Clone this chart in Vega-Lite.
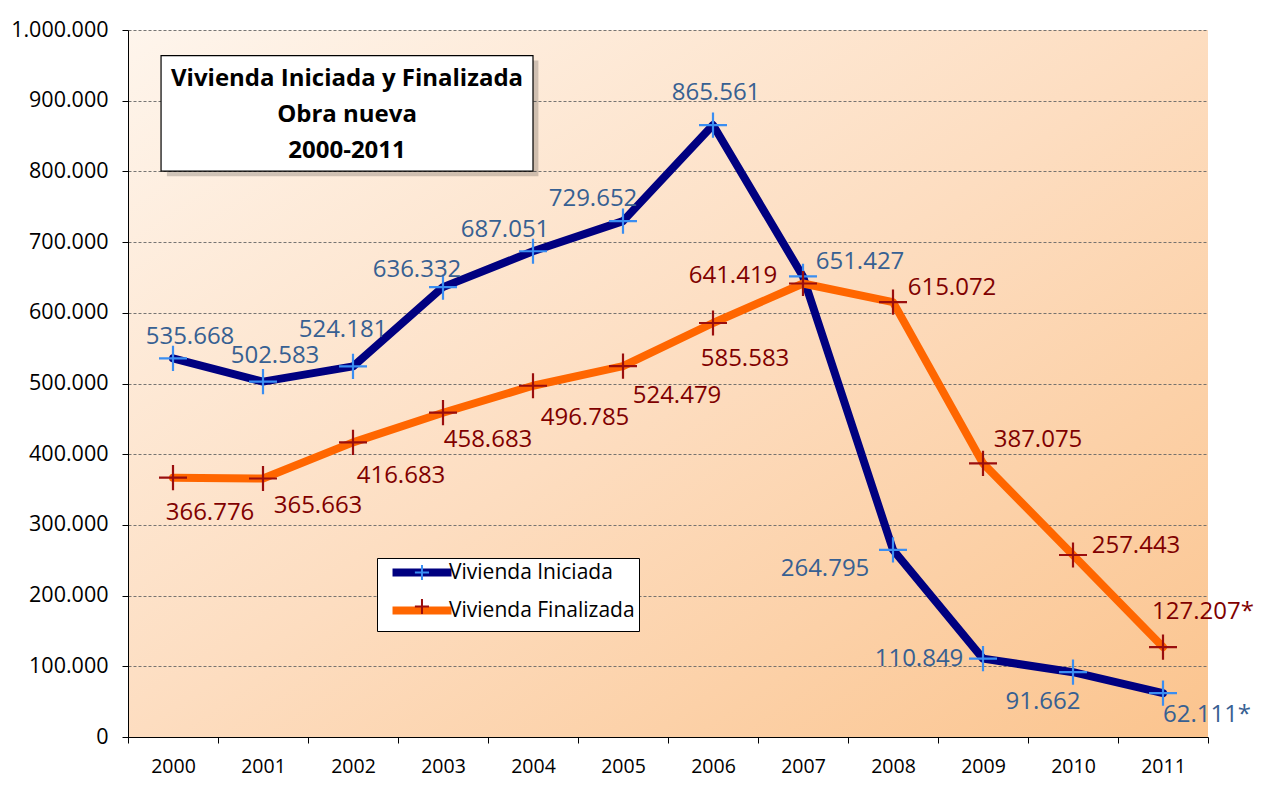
{
  "$schema": "https://vega.github.io/schema/vega-lite/v6.json",
  "width": 1080,
  "height": 707,
  "autosize": {"type": "none"},
  "padding": {"left": 128, "top": 30, "right": 55, "bottom": 59},
  "background": "white",
  "config": {
    "locale": {"number": {"decimal": ",", "thousands": ".", "grouping": [3], "currency": ["", " €"]}},
    "font": "Open Sans",
    "view": {
      "fill": {"gradient": "linear", "x1": 0, "y1": 0, "x2": 1, "y2": 1,
        "stops": [{"offset": 0, "color": "#FEF5EC"}, {"offset": 0.5, "color": "#FDDDC0"}, {"offset": 1, "color": "#FBC48E"}]},
      "stroke": null
    },
    "text": {"font": "Open Sans", "fontSize": 24, "align": "center", "baseline": "middle"}
  },
  "data": {"values": [
    {"year": "2000", "serie": "Vivienda Iniciada", "value": 535668, "label": "535.668"},
    {"year": "2001", "serie": "Vivienda Iniciada", "value": 502583, "label": "502.583"},
    {"year": "2002", "serie": "Vivienda Iniciada", "value": 524181, "label": "524.181"},
    {"year": "2003", "serie": "Vivienda Iniciada", "value": 636332, "label": "636.332"},
    {"year": "2004", "serie": "Vivienda Iniciada", "value": 687051, "label": "687.051"},
    {"year": "2005", "serie": "Vivienda Iniciada", "value": 729652, "label": "729.652"},
    {"year": "2006", "serie": "Vivienda Iniciada", "value": 865561, "label": "865.561"},
    {"year": "2007", "serie": "Vivienda Iniciada", "value": 651427, "label": "651.427"},
    {"year": "2008", "serie": "Vivienda Iniciada", "value": 264795, "label": "264.795"},
    {"year": "2009", "serie": "Vivienda Iniciada", "value": 110849, "label": "110.849"},
    {"year": "2010", "serie": "Vivienda Iniciada", "value": 91662, "label": "91.662"},
    {"year": "2011", "serie": "Vivienda Iniciada", "value": 62111, "label": "62.111*"},
    {"year": "2000", "serie": "Vivienda Finalizada", "value": 366776, "label": "366.776"},
    {"year": "2001", "serie": "Vivienda Finalizada", "value": 365663, "label": "365.663"},
    {"year": "2002", "serie": "Vivienda Finalizada", "value": 416683, "label": "416.683"},
    {"year": "2003", "serie": "Vivienda Finalizada", "value": 458683, "label": "458.683"},
    {"year": "2004", "serie": "Vivienda Finalizada", "value": 496785, "label": "496.785"},
    {"year": "2005", "serie": "Vivienda Finalizada", "value": 524479, "label": "524.479"},
    {"year": "2006", "serie": "Vivienda Finalizada", "value": 585583, "label": "585.583"},
    {"year": "2007", "serie": "Vivienda Finalizada", "value": 641419, "label": "641.419"},
    {"year": "2008", "serie": "Vivienda Finalizada", "value": 615072, "label": "615.072"},
    {"year": "2009", "serie": "Vivienda Finalizada", "value": 387075, "label": "387.075"},
    {"year": "2010", "serie": "Vivienda Finalizada", "value": 257443, "label": "257.443"},
    {"year": "2011", "serie": "Vivienda Finalizada", "value": 127207, "label": "127.207*"}
  ]},
  "resolve": {"scale": {"x": "independent", "y": "independent"}},
  "layer": [
    {
      "encoding": {
        "x": {"field": "year", "type": "ordinal", "scale": {"paddingInner": 0, "paddingOuter": 0},
          "axis": {"title": null, "labelAngle": 0, "tickBand": "extent", "domainColor": "black", "tickColor": "black", "tickSize": 6,
            "labelFont": "Open Sans", "labelFontSize": 19.5, "labelColor": "black", "labelPadding": 14, "grid": false}},
        "y": {"field": "value", "type": "quantitative", "scale": {"domain": [0, 1000000], "nice": false},
          "axis": {"title": null, "values": [0, 100000, 200000, 300000, 400000, 500000, 600000, 700000, 800000, 900000, 1000000],
            "format": ",d", "domainColor": "black", "tickColor": "black", "tickSize": 6,
            "labelFont": "Open Sans", "labelFontSize": 21.5, "labelColor": "black", "labelPadding": 14,
            "grid": true, "gridColor": "#666666", "gridDash": [3, 2], "gridWidth": 0.9}}
      },
      "layer": [
        {"transform": [{"filter": "datum.serie == 'Vivienda Iniciada'"}],
          "mark": {"type": "line", "strokeWidth": 8, "strokeJoin": "round", "strokeCap": "round"},
          "encoding": {"color": {"field": "serie", "type": "nominal",
            "scale": {"domain": ["Vivienda Iniciada", "Vivienda Finalizada"], "range": ["#000080", "#FF6600"]},
            "legend": {"title": null, "orient": "none", "legendX": 249, "legendY": 528, "fillColor": "white", "strokeColor": "black", "zindex": 1,
              "padding": 4, "symbolType": "M0.17,0H10", "symbolSize": 144, "symbolStrokeWidth": 8, "labelOffset": 47, "labelLimit": 400,
              "labelFont": "Open Sans", "labelFontSize": 21, "labelColor": "black", "rowPadding": 5}}}},
        {"transform": [{"filter": "datum.serie == 'Vivienda Finalizada'"}],
          "mark": {"type": "line", "strokeWidth": 8, "strokeJoin": "round", "strokeCap": "round"},
          "encoding": {"color": {"field": "serie", "type": "nominal"}}},
        {"mark": {"type": "point", "shape": "M-1,0H1M0,-0.9V0.9", "size": 784, "strokeWidth": 2.2, "filled": false, "opacity": 1},
          "encoding": {"stroke": {"field": "serie", "type": "nominal",
            "scale": {"domain": ["Vivienda Iniciada", "Vivienda Finalizada", "-"], "range": ["#3A8EF2", "#9A0E0E", "transparent"]},
            "legend": {"title": null, "orient": "none", "legendX": 249, "legendY": 528, "zindex": 2, "values": ["Vivienda Iniciada", "Vivienda Finalizada"],
              "padding": 4, "symbolType": "M3.9,0H6.25M5.08,-1.25V1.25", "symbolSize": 144, "symbolStrokeWidth": 2, "symbolOpacity": 1, "labelOffset": 47, "labelLimit": 400,
              "labelFont": "Open Sans", "labelFontSize": 21, "labelExpr": "' '", "rowPadding": 11}}}},
        {"transform": [{"filter": "datum.serie == 'Vivienda Iniciada' && datum.year == '2000'"}], "mark": {"type": "text", "color": "#376092", "dx": 17, "dy": -21}, "encoding": {"text": {"field": "label"}}},
        {"transform": [{"filter": "datum.serie == 'Vivienda Iniciada' && datum.year == '2001'"}], "mark": {"type": "text", "color": "#376092", "dx": 12, "dy": -26}, "encoding": {"text": {"field": "label"}}},
        {"transform": [{"filter": "datum.serie == 'Vivienda Iniciada' && datum.year == '2002'"}], "mark": {"type": "text", "color": "#376092", "dx": -10, "dy": -36}, "encoding": {"text": {"field": "label"}}},
        {"transform": [{"filter": "datum.serie == 'Vivienda Iniciada' && datum.year == '2003'"}], "mark": {"type": "text", "color": "#376092", "dx": -26, "dy": -17}, "encoding": {"text": {"field": "label"}}},
        {"transform": [{"filter": "datum.serie == 'Vivienda Iniciada' && datum.year == '2004'"}], "mark": {"type": "text", "color": "#376092", "dx": -28, "dy": -21}, "encoding": {"text": {"field": "label"}}},
        {"transform": [{"filter": "datum.serie == 'Vivienda Iniciada' && datum.year == '2005'"}], "mark": {"type": "text", "color": "#376092", "dx": -30, "dy": -22}, "encoding": {"text": {"field": "label"}}},
        {"transform": [{"filter": "datum.serie == 'Vivienda Iniciada' && datum.year == '2006'"}], "mark": {"type": "text", "color": "#376092", "dx": 3, "dy": -32}, "encoding": {"text": {"field": "label"}}},
        {"transform": [{"filter": "datum.serie == 'Vivienda Iniciada' && datum.year == '2007'"}], "mark": {"type": "text", "color": "#376092", "dx": 57, "dy": -14}, "encoding": {"text": {"field": "label"}}},
        {"transform": [{"filter": "datum.serie == 'Vivienda Iniciada' && datum.year == '2008'"}], "mark": {"type": "text", "color": "#376092", "dx": -68, "dy": 19}, "encoding": {"text": {"field": "label"}}},
        {"transform": [{"filter": "datum.serie == 'Vivienda Iniciada' && datum.year == '2009'"}], "mark": {"type": "text", "color": "#376092", "dx": -64, "dy": 0}, "encoding": {"text": {"field": "label"}}},
        {"transform": [{"filter": "datum.serie == 'Vivienda Iniciada' && datum.year == '2010'"}], "mark": {"type": "text", "color": "#376092", "dx": -30, "dy": 30}, "encoding": {"text": {"field": "label"}}},
        {"transform": [{"filter": "datum.serie == 'Vivienda Iniciada' && datum.year == '2011'"}], "mark": {"type": "text", "color": "#376092", "dx": 44, "dy": 22}, "encoding": {"text": {"field": "label"}}},
        {"transform": [{"filter": "datum.serie == 'Vivienda Finalizada' && datum.year == '2000'"}], "mark": {"type": "text", "color": "#800000", "dx": 37, "dy": 35}, "encoding": {"text": {"field": "label"}}},
        {"transform": [{"filter": "datum.serie == 'Vivienda Finalizada' && datum.year == '2001'"}], "mark": {"type": "text", "color": "#800000", "dx": 55, "dy": 28}, "encoding": {"text": {"field": "label"}}},
        {"transform": [{"filter": "datum.serie == 'Vivienda Finalizada' && datum.year == '2002'"}], "mark": {"type": "text", "color": "#800000", "dx": 48, "dy": 34}, "encoding": {"text": {"field": "label"}}},
        {"transform": [{"filter": "datum.serie == 'Vivienda Finalizada' && datum.year == '2003'"}], "mark": {"type": "text", "color": "#800000", "dx": 45, "dy": 27}, "encoding": {"text": {"field": "label"}}},
        {"transform": [{"filter": "datum.serie == 'Vivienda Finalizada' && datum.year == '2004'"}], "mark": {"type": "text", "color": "#800000", "dx": 52, "dy": 32}, "encoding": {"text": {"field": "label"}}},
        {"transform": [{"filter": "datum.serie == 'Vivienda Finalizada' && datum.year == '2005'"}], "mark": {"type": "text", "color": "#800000", "dx": 54, "dy": 30}, "encoding": {"text": {"field": "label"}}},
        {"transform": [{"filter": "datum.serie == 'Vivienda Finalizada' && datum.year == '2006'"}], "mark": {"type": "text", "color": "#800000", "dx": 32, "dy": 36}, "encoding": {"text": {"field": "label"}}},
        {"transform": [{"filter": "datum.serie == 'Vivienda Finalizada' && datum.year == '2007'"}], "mark": {"type": "text", "color": "#800000", "dx": -70, "dy": -8}, "encoding": {"text": {"field": "label"}}},
        {"transform": [{"filter": "datum.serie == 'Vivienda Finalizada' && datum.year == '2008'"}], "mark": {"type": "text", "color": "#800000", "dx": 59, "dy": -14}, "encoding": {"text": {"field": "label"}}},
        {"transform": [{"filter": "datum.serie == 'Vivienda Finalizada' && datum.year == '2009'"}], "mark": {"type": "text", "color": "#800000", "dx": 55, "dy": -23}, "encoding": {"text": {"field": "label"}}},
        {"transform": [{"filter": "datum.serie == 'Vivienda Finalizada' && datum.year == '2010'"}], "mark": {"type": "text", "color": "#800000", "dx": 63, "dy": -9}, "encoding": {"text": {"field": "label"}}},
        {"transform": [{"filter": "datum.serie == 'Vivienda Finalizada' && datum.year == '2011'"}], "mark": {"type": "text", "color": "#800000", "dx": 40, "dy": -35}, "encoding": {"text": {"field": "label"}}}
      ]
    },
    {
      "data": {"values": [{"t": 1}]},
      "layer": [
        {"mark": {"type": "rect", "fill": "#000000", "opacity": 0.18},
          "encoding": {
            "x": {"datum": 0.036, "type": "quantitative", "scale": {"domain": [0, 1], "nice": false, "zero": false}, "axis": null},
            "x2": {"datum": 0.380},
            "y": {"datum": 957000, "type": "quantitative", "scale": {"domain": [0, 1000000], "nice": false}, "axis": null},
            "y2": {"datum": 793000}}},
        {"mark": {"type": "rect", "fill": "white", "stroke": "black", "strokeWidth": 1.2},
          "encoding": {
            "x": {"datum": 0.0306, "type": "quantitative", "scale": {"domain": [0, 1], "nice": false, "zero": false}, "axis": null},
            "x2": {"datum": 0.375},
            "y": {"datum": 963800, "type": "quantitative", "scale": {"domain": [0, 1000000], "nice": false}, "axis": null},
            "y2": {"datum": 800500}}},
        {"mark": {"type": "text", "font": "Open Sans", "fontWeight": "bold", "fontSize": 24, "lineHeight": 36, "color": "black", "align": "center", "baseline": "middle"},
          "encoding": {
            "x": {"datum": 0.2028, "type": "quantitative", "scale": {"domain": [0, 1], "nice": false, "zero": false}, "axis": null},
            "y": {"datum": 931000, "type": "quantitative", "scale": {"domain": [0, 1000000], "nice": false}, "axis": null},
            "text": {"value": ["Vivienda Iniciada y Finalizada", "Obra nueva", "2000-2011"]}}}
      ]
    }
  ]
}
